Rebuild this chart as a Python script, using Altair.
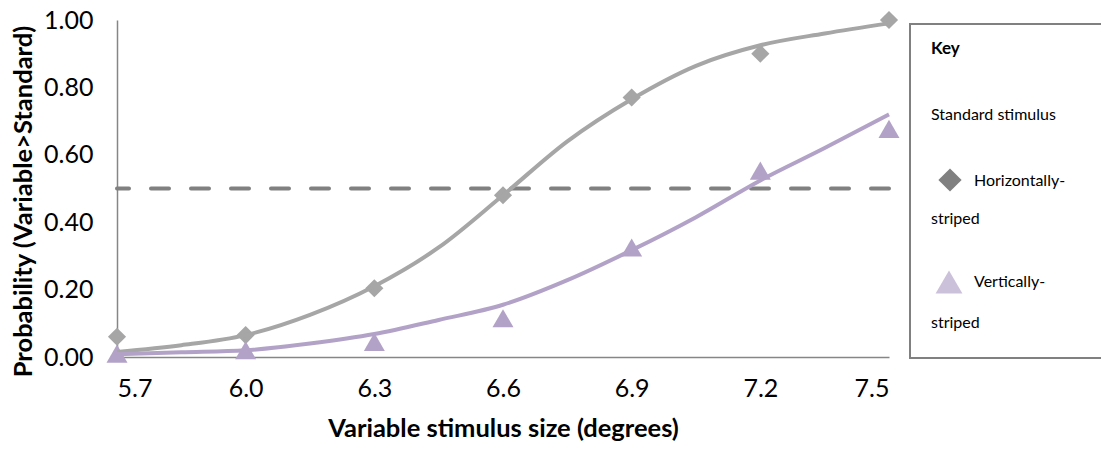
import altair as alt
import pandas as pd

# Observed proportions
sizes = [5.7, 6.0, 6.3, 6.6, 6.9, 7.2, 7.5]
horiz = [0.06, 0.065, 0.204, 0.48, 0.77, 0.90, 1.00]
vert = [0.01, 0.02, 0.045, 0.115, 0.325, 0.553, 0.677]

# Fitted curves
fit_x = [5.7, 5.85, 6.0, 6.15, 6.3, 6.45, 6.6, 6.75, 6.9, 7.05, 7.2, 7.35, 7.5]
fit_horiz = [0.015, 0.035, 0.065, 0.125, 0.21, 0.325, 0.48, 0.64, 0.765, 0.864, 0.925, 0.96, 0.99]
fit_vert = [0.008, 0.014, 0.02, 0.04, 0.068, 0.11, 0.155, 0.228, 0.317, 0.415, 0.524, 0.62, 0.72]

threshold = [0.5]
x_ticks = [5.7, 6.0, 6.3, 6.6, 6.9, 7.2, 7.5]
y_ticks = [0.0, 0.2, 0.4, 0.6, 0.8, 1.0]

legend_title = "Key"
legend_sub = "Standard stimulus"
legend_h = ["Horizontally-", "striped"]
legend_v = ["Vertically-", "striped"]

FONT = "Lato"
GRAY = "#A6A6A6"
PURPLE = "#B3A2C7"

pts = pd.DataFrame({"x": sizes, "h": horiz, "v": vert})
fits = pd.DataFrame({"x": fit_x, "h": fit_horiz, "v": fit_vert})
thr = pd.DataFrame({"t": threshold})
one = pd.DataFrame({"a": [0]})

xs = alt.Scale(domain=[5.7, 7.5], nice=False, zero=False)
ys = alt.Scale(domain=[0, 1], nice=False)

X = alt.X("x:Q", scale=xs, axis=alt.Axis(values=x_ticks, format=".1f",
          title="Variable stimulus size (degrees)", titlePadding=15))
Y = alt.Y("h:Q", scale=ys, axis=alt.Axis(values=y_ticks, format=".2f",
          title="Probability (Variable>Standard)", titlePadding=7, titleY=181))

base_axes = alt.Chart(pts).mark_point(opacity=0).encode(x=X, y=Y)

dash = alt.Chart(thr).mark_rule(color="#808080", strokeWidth=4,
                                strokeDash=[18, 22], strokeCap="round").encode(
    y=alt.Y("t:Q", scale=ys))

line_h = alt.Chart(fits).mark_line(color=GRAY, strokeWidth=4, interpolate="monotone").encode(
    x=alt.X("x:Q", scale=xs), y=alt.Y("h:Q", scale=ys))
line_v = alt.Chart(fits).mark_line(color=PURPLE, strokeWidth=4, interpolate="monotone").encode(
    x=alt.X("x:Q", scale=xs), y=alt.Y("v:Q", scale=ys))

pt_h = alt.Chart(pts).mark_point(shape="diamond", filled=True, color=GRAY, size=330, opacity=1).encode(
    x=alt.X("x:Q", scale=xs), y=alt.Y("h:Q", scale=ys))
pt_v = alt.Chart(pts).mark_point(shape="triangle-up", filled=True, color=PURPLE, size=440, opacity=1).encode(
    x=alt.X("x:Q", scale=xs), y=alt.Y("v:Q", scale=ys))

# Legend box (its right side runs off the picture, as in the reference)
box = alt.Chart(one).mark_rect(fill="white", stroke="#808080", strokeWidth=2).encode(
    x=alt.value(793), x2=alt.value(1010), y=alt.value(4), y2=alt.value(338))

def txt(s, x, y, bold=False, size=16):
    return alt.Chart(one).mark_text(text=s, align="left", baseline="middle", font=FONT,
                                    fontSize=size, fontWeight="bold" if bold else "normal",
                                    color="black").encode(x=alt.value(x), y=alt.value(y))

leg_d = alt.Chart(one).mark_point(shape="diamond", filled=True, color="#808080", size=540, opacity=1).encode(
    x=alt.value(833), y=alt.value(160))
leg_t = alt.Chart(one).mark_point(shape="triangle-up", filled=True, color="#CCC1DA", size=720, opacity=1).encode(
    x=alt.value(832), y=alt.value(262))

chart = alt.layer(
    base_axes, dash, pt_h, pt_v, line_h, line_v,
    box,
    txt(legend_title, 814, 29, bold=True, size=17),
    txt(legend_sub, 814, 95),
    leg_d, txt(legend_h[0], 857, 161),
    txt(legend_h[1], 814, 199),
    leg_t, txt(legend_v[0], 857, 262),
    txt(legend_v[1], 814, 303),
).properties(
    width=772, height=337,
    autosize=alt.AutoSizeParams(type="none"),
    padding={"left": 109, "top": 12, "right": 212, "bottom": 84},
).configure_view(stroke=None).configure_axis(
    grid=False, ticks=False, domainColor="#868686", domainWidth=1.5,
    labelFont=FONT, labelFontSize=25, labelColor="black",
    titleFont=FONT, titleFontSize=25.5, titleFontWeight="bold", titleColor="black",
).configure_axisX(labelPadding=19).configure_axisY(labelPadding=24)

chart.save("out.html", embed_options={"renderer": "svg", "actions": False})
